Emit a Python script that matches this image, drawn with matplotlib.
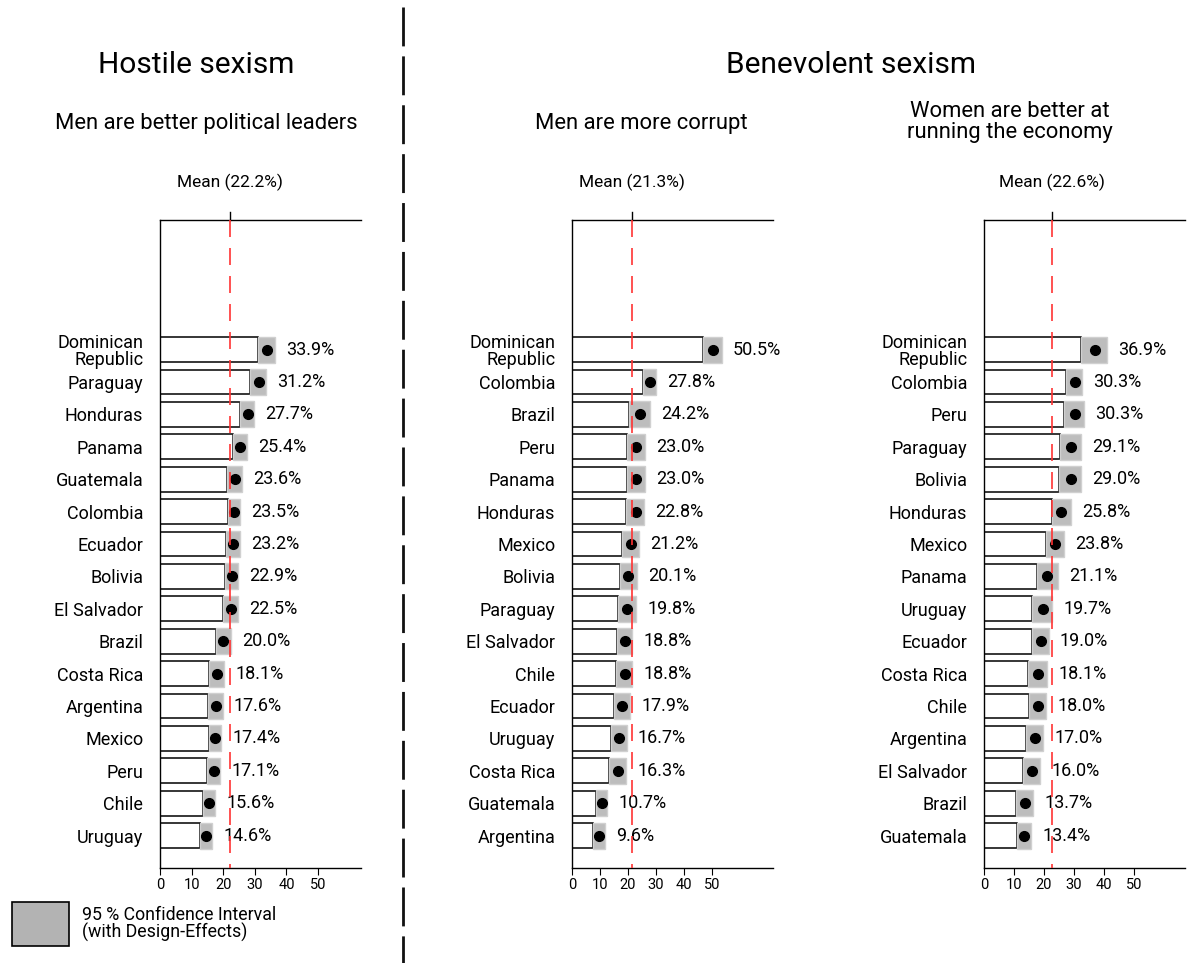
import matplotlib.pyplot as plt
from matplotlib.patches import Rectangle
from matplotlib.lines import Line2D

plt.rcParams['font.family'] = ['Roboto', 'DejaVu Sans']

# Hostile sexism: men are better political leaders
lead_countries = ["Dominican\nRepublic", "Paraguay", "Honduras", "Panama", "Guatemala",
                  "Colombia", "Ecuador", "Bolivia", "El Salvador", "Brazil", "Costa Rica",
                  "Argentina", "Mexico", "Peru", "Chile", "Uruguay"]
lead_est = [33.9, 31.2, 27.7, 25.4, 23.6, 23.5, 23.2, 22.9, 22.5, 20.0, 18.1, 17.6, 17.4, 17.1, 15.6, 14.6]
lead_lo = [31.1, 28.6, 25.2, 23.2, 21.1, 21.4, 21.0, 20.6, 20.0, 17.7, 15.6, 15.3, 15.5, 15.0, 13.7, 12.7]
lead_hi = [36.4, 33.4, 29.9, 27.4, 26.0, 25.4, 25.4, 24.8, 24.8, 22.5, 20.4, 19.8, 19.3, 19.1, 17.5, 16.6]
lead_mean = 22.2

# Benevolent sexism: men are more corrupt
corr_countries = ["Dominican\nRepublic", "Colombia", "Brazil", "Peru", "Panama", "Honduras",
                  "Mexico", "Bolivia", "Paraguay", "El Salvador", "Chile", "Ecuador",
                  "Uruguay", "Costa Rica", "Guatemala", "Argentina"]
corr_est = [50.5, 27.8, 24.2, 23.0, 23.0, 22.8, 21.2, 20.1, 19.8, 18.8, 18.8, 17.9, 16.7, 16.3, 10.7, 9.6]
corr_lo = [46.8, 25.4, 20.5, 19.6, 19.6, 19.4, 17.9, 17.0, 16.4, 16.1, 15.7, 15.1, 13.8, 13.2, 8.6, 7.5]
corr_hi = [53.6, 29.9, 27.7, 26.1, 26.1, 25.8, 24.0, 23.1, 22.9, 21.4, 21.4, 20.8, 19.6, 19.4, 12.6, 11.8]
corr_mean = 21.3

# Benevolent sexism: women are better at running the economy
econ_countries = ["Dominican\nRepublic", "Colombia", "Peru", "Paraguay", "Bolivia", "Honduras",
                  "Mexico", "Panama", "Uruguay", "Ecuador", "Costa Rica", "Chile",
                  "Argentina", "El Salvador", "Brazil", "Guatemala"]
econ_est = [36.9, 30.3, 30.3, 29.1, 29.0, 25.8, 23.8, 21.1, 19.7, 19.0, 18.1, 18.0, 17.0, 16.0, 13.7, 13.4]
econ_lo = [32.2, 27.4, 26.7, 25.2, 25.0, 22.6, 20.8, 17.6, 16.1, 16.1, 14.7, 15.0, 14.0, 13.1, 10.8, 10.9]
econ_hi = [41.1, 32.8, 33.4, 32.4, 32.4, 29.0, 26.6, 24.6, 22.8, 21.6, 21.1, 20.7, 19.8, 18.7, 16.4, 15.8]
econ_mean = 22.6

ticks = [0, 10, 20, 30, 40, 50]

W, H = 1188, 963
fig = plt.figure(figsize=(W / 100, H / 100), dpi=100)


def px_axes(x0, x1, y_top, y_bot):
    return fig.add_axes([x0 / W, 1 - y_bot / H, (x1 - x0) / W, (y_bot - y_top) / H])


def draw_panel(ax, countries, est, lo, hi, mean, xmax):
    n = len(countries)
    ypos = list(range(n, 0, -1))
    # white bar up to the lower bound, grey box over the interval
    ax.barh(ypos, lo, height=0.76, color='white', edgecolor='black', linewidth=1.1, zorder=2)
    for y, a, b in zip(ypos, lo, hi):
        ax.add_patch(Rectangle((a, y - 0.4), b - a, 0.8, facecolor='#bdbdbd',
                               edgecolor='#d0d0d0', linewidth=1, zorder=3))
    ax.plot(est, ypos, 'o', color='black', markersize=7, zorder=4)
    for y, b, e in zip(ypos, hi, est):
        ax.annotate(f"{e:.1f}%", (b, y), xytext=(8, 0), textcoords='offset points',
                    ha='left', va='center', fontsize=13, zorder=5)
    ax.plot([mean, mean], [20, 0], color='#ff3333', linewidth=1.2,
            dashes=(10.2, 6.6), zorder=6)

    ax.set_xlim(0, xmax)
    ax.set_ylim(0, 20)
    ax.set_yticks(ypos)
    ax.set_yticklabels(countries, fontsize=13, linespacing=0.95)
    ax.tick_params(axis='y', length=0, pad=12)
    ax.set_xticks(ticks)
    ax.tick_params(axis='x', length=5, labelsize=10.5, pad=2)
    ax.spines['right'].set_visible(False)
    for s in ['left', 'top', 'bottom']:
        ax.spines[s].set_linewidth(1)

    # mean marker on the top edge
    ax.plot([mean, mean], [20, 20.25], color='black', linewidth=1, clip_on=False)
    ax.text(mean, 20.9, f"Mean ({mean:.1f}%)", ha='center', va='bottom', fontsize=12.5)


ax1 = px_axes(160, 361, 220, 868)
draw_panel(ax1, lead_countries, lead_est, lead_lo, lead_hi, lead_mean, 63.6)

ax2 = px_axes(572, 773, 220, 868)
draw_panel(ax2, corr_countries, corr_est, corr_lo, corr_hi, corr_mean, 71.8)

ax3 = px_axes(984, 1185, 220, 868)
draw_panel(ax3, econ_countries, econ_est, econ_lo, econ_hi, econ_mean, 67.0)

# headings
fig.text(196 / W, 1 - 65 / H, "Hostile sexism", ha='center', va='center', fontsize=21.5)
fig.text(851 / W, 1 - 65 / H, "Benevolent sexism", ha='center', va='center', fontsize=21.5)
fig.text(206 / W, 1 - 123 / H, "Men are better political leaders", ha='center', va='center', fontsize=15.8)
fig.text(641 / W, 1 - 123 / H, "Men are more corrupt", ha='center', va='center', fontsize=15.8)
fig.text(1010 / W, 1 - 122 / H, "Women are better at\nrunning the economy", ha='center',
         va='center', fontsize=15.8, linespacing=0.95)

# divider between the two groups
fig.add_artist(Line2D([403 / W, 403 / W], [1 - 7 / H, 0], transform=fig.transFigure,
                      color='#111111', linewidth=2, dashes=(14, 3.6)))

# legend for the grey boxes
fig.add_artist(Rectangle((12 / W, 1 - 946 / H), 57 / W, 44 / H, transform=fig.transFigure,
                         facecolor='#b3b3b3', edgecolor='black', linewidth=1.2))
fig.text(82 / W, 1 - 924 / H, "95 % Confidence Interval\n(with Design-Effects)",
         ha='left', va='center', fontsize=12.8, linespacing=0.95)

fig.savefig('out.png', dpi=100)
